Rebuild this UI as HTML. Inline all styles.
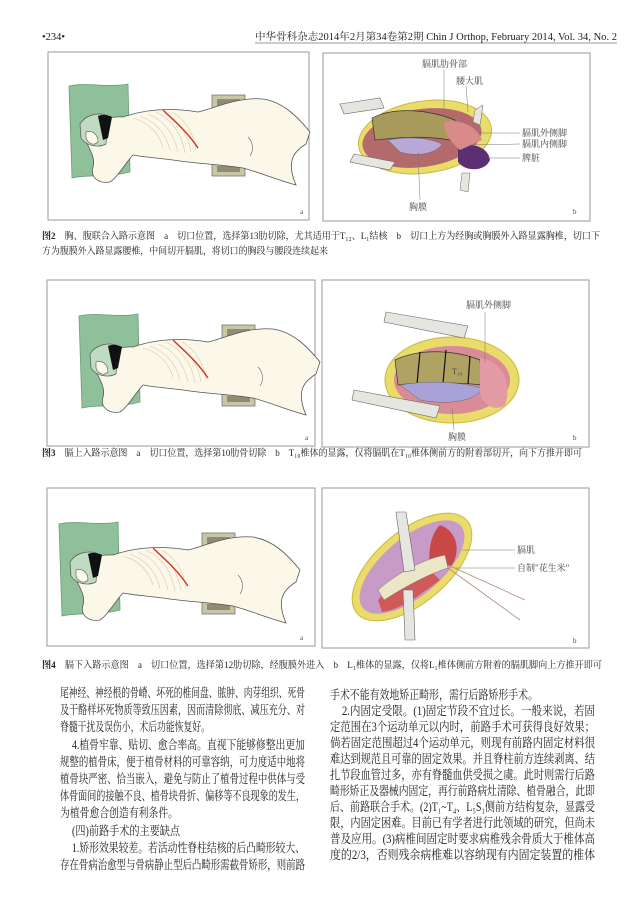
<!DOCTYPE html>
<html><head><meta charset="utf-8"><style>
html,body{margin:0;padding:0;background:#fff;}
svg{display:block;}
text{font-family:"Liberation Serif","Noto Serif CJK SC","Noto Sans CJK SC",serif;fill:#222;}
.cap{font-size:9.5px;}
.body{font-size:12.5px;}
.lab{font-size:9px;fill:#444;}
</style></head><body>
<svg width="625" height="900" viewBox="0 0 625 900" xmlns="http://www.w3.org/2000/svg">
<defs>
<g id="patient">
  <path d="M21,34 C40,30 60,36 80,32 L82,120 C60,126 40,122 24,126 Z" fill="#8fc09a" stroke="#6d9c78" stroke-width="0.8"/>
  <rect x="164" y="43" width="33" height="15" fill="#c9c6a6" stroke="#777" stroke-width="0.8"/>
  <rect x="169" y="47" width="23" height="7" fill="#8f8c74"/>
  <rect x="164" y="110" width="33" height="14" fill="#c9c6a6" stroke="#777" stroke-width="0.8"/>
  <rect x="169" y="114" width="23" height="6" fill="#8f8c74"/>
  <path d="M75,65 C95,58 120,55 150,60 C170,55 190,45 215,47 C235,50 250,65 262,80 L258,92 C245,100 238,110 248,133 C230,128 210,120 195,116 C170,112 150,112 125,108 C110,106 95,105 85,103 C78,110 70,125 62,130 C50,132 42,125 45,115 C48,105 40,95 36,85 C40,72 58,64 75,65 Z" fill="#fbf8ea" stroke="#555" stroke-width="0.8"/>
  <path d="M32,72 C38,62 52,60 60,64 L58,92 C50,96 38,94 33,86 Z" fill="#bfdcc2" stroke="#555" stroke-width="0.7"/>
  <path d="M50,64 C55,62 60,63 64,65 L60,86 L55,88 Z" fill="#111"/>
  <path d="M38,80 C44,78 50,82 50,90 C46,94 40,92 38,86 Z" fill="#fbf8ea" stroke="#555" stroke-width="0.6"/>
  <g stroke="#d9c7a0" stroke-width="0.6" fill="none">
    <path d="M85,66 C100,70 110,80 115,95"/><path d="M92,64 C108,70 118,82 122,98"/>
    <path d="M100,62 C116,68 126,82 130,100"/><path d="M108,60 C124,68 134,82 137,101"/>
    <path d="M116,60 C130,68 140,82 143,100"/><path d="M124,60 C138,68 146,82 148,98"/>
  </g>
  <path d="M115,58 C125,68 138,78 150,96" stroke="#d8322a" stroke-width="1.4" fill="none"/>
  <path d="M200,85 C205,90 206,98 202,104" stroke="#666" stroke-width="0.6" fill="none"/>
</g>
</defs>

<text x="42" y="40" style="font-size:10.5px">•234•</text>
<text x="255" y="40" style="font-size:10px" textLength="362" lengthAdjust="spacingAndGlyphs">中华骨科杂志2014年2月第34卷第2期 Chin J Orthop, February 2014, Vol. 34, No. 2</text>
<line x1="255" y1="43" x2="617" y2="43" stroke="#333" stroke-width="0.6"/>

<!-- Figure 2 -->
<rect x="48" y="52" width="261" height="168" fill="#fff" stroke="#999" stroke-width="1"/>
<use href="#patient" x="48" y="52"/>
<text x="300" y="214" class="lab" style="font-size:7px">a</text>
<rect x="323" y="53" width="267" height="168" fill="#fff" stroke="#999" stroke-width="1"/>
<ellipse cx="425" cy="137" rx="67" ry="36" fill="#e9dc6a" stroke="#c9b840" transform="rotate(-8 425 137)"/>
<ellipse cx="422" cy="138" rx="60" ry="29" fill="#b46a6a" transform="rotate(-8 422 138)"/>
<path d="M372,118 C395,106 430,110 455,120 L450,140 C420,135 395,138 375,140 Z" fill="#a89a5a" stroke="#333" stroke-width="0.7"/>
<path d="M388,140 C410,136 430,138 442,144 C438,152 420,158 400,152 Z" fill="#b9a8d8" stroke="#666" stroke-width="0.5"/>
<path d="M458,148 C470,142 488,146 490,160 C485,172 465,172 458,162 Z" fill="#5c2f74"/>
<path d="M444,122 C462,118 478,128 482,140 L460,150 C450,142 444,132 444,122 Z" fill="#d98a8a"/>
<path d="M340,104 L380,98 L384,108 L344,114 Z" fill="#e6e6e0" stroke="#666" stroke-width="0.6"/>
<path d="M354,154 L395,162 L390,170 L350,162 Z" fill="#e6e6e0" stroke="#666" stroke-width="0.6"/>
<path d="M475,110 L483,105 L480,125 L473,122 Z" fill="#e6e6e0" stroke="#666" stroke-width="0.5"/>
<path d="M462,173 L470,173 L468,192 L460,190 Z" fill="#e6e6e0" stroke="#666" stroke-width="0.5"/>
<g stroke="#777" stroke-width="0.5">
<line x1="444" y1="70" x2="444" y2="116"/><line x1="466" y1="86" x2="468" y2="112"/>
<line x1="478" y1="133" x2="520" y2="133"/><line x1="470" y1="145" x2="520" y2="144"/>
<line x1="488" y1="158" x2="520" y2="158"/><line x1="418" y1="152" x2="420" y2="200"/>
</g>
<text x="422" y="67" class="lab">膈肌肋骨部</text>
<text x="456" y="84" class="lab">腰大肌</text>
<text x="522" y="136" class="lab">膈肌外侧脚</text>
<text x="522" y="147" class="lab">膈肌内侧脚</text>
<text x="522" y="161" class="lab">脾脏</text>
<text x="409" y="210" class="lab">胸膜</text>
<text x="573" y="214" class="lab" style="font-size:7px">b</text>
<text x="42" y="239" class="cap" textLength="558" lengthAdjust="spacingAndGlyphs"><tspan font-weight="bold">图2</tspan>　胸、腹联合入路示意图　a　切口位置，选择第13肋切除，尤其适用于T₁₂、L₁结核　b　切口上方为经胸或胸膜外入路显露胸椎，切口下</text>
<text x="42" y="254" class="cap" textLength="286" lengthAdjust="spacingAndGlyphs">方为腹膜外入路显露腰椎，中间切开膈肌，将切口的胸段与腰段连续起来</text>

<!-- Figure 3 -->
<rect x="47" y="280" width="268" height="166" fill="#fff" stroke="#999" stroke-width="1"/>
<use href="#patient" x="58" y="282"/>
<text x="305" y="440" class="lab" style="font-size:7px">a</text>
<rect x="322" y="280" width="267" height="167" fill="#fff" stroke="#999" stroke-width="1"/>
<ellipse cx="452" cy="380" rx="67" ry="43" fill="#e9dc6a" stroke="#c9b840"/>
<ellipse cx="452" cy="380" rx="58" ry="34" fill="#d98c96"/>
<path d="M395,360 C420,348 455,350 480,360 L482,385 C455,382 420,382 398,385 Z" fill="#b0a262" stroke="#333" stroke-width="0.7"/>
<g stroke="#111" stroke-width="1.2"><line x1="420" y1="352" x2="417" y2="384"/><line x1="446" y1="350" x2="443" y2="383"/><line x1="470" y1="356" x2="468" y2="384"/></g>
<text x="452" y="374" class="lab" style="font-size:8px">T₁₀</text>
<path d="M400,385 C430,380 460,382 482,388 C478,400 450,406 420,400 Z" fill="#a9a2d8" stroke="#666" stroke-width="0.5"/>
<path d="M480,358 C505,362 512,385 505,405 C495,412 482,405 480,392 Z" fill="#e29aa4"/>
<path d="M386,312 L468,326 L464,338 L384,322 Z" fill="#e6e6e0" stroke="#666" stroke-width="0.6"/>
<path d="M354,390 L440,406 L436,418 L352,400 Z" fill="#e6e6e0" stroke="#666" stroke-width="0.6"/>
<g stroke="#777" stroke-width="0.5"><line x1="485" y1="312" x2="485" y2="362"/><line x1="452" y1="408" x2="454" y2="430"/></g>
<text x="466" y="308" class="lab">膈肌外侧脚</text>
<text x="448" y="440" class="lab">胸膜</text>
<text x="573" y="440" class="lab" style="font-size:7px">b</text>
<text x="42" y="456" class="cap" textLength="540" lengthAdjust="spacingAndGlyphs"><tspan font-weight="bold">图3</tspan>　膈上入路示意图　a　切口位置，选择第10肋骨切除　b　T₁₀椎体的显露，仅将膈肌在T₁₀椎体侧前方的附着部切开，向下方推开即可</text>

<!-- Figure 4 -->
<rect x="47" y="488" width="268" height="158" fill="#fff" stroke="#999" stroke-width="1"/>
<use href="#patient" x="38" y="490"/>
<text x="300" y="640" class="lab" style="font-size:7px">a</text>
<rect x="322" y="488" width="267" height="160" fill="#fff" stroke="#999" stroke-width="1"/>
<ellipse cx="412" cy="567" rx="72" ry="36" fill="#e9dc6a" stroke="#c9b840" transform="rotate(-40 412 567)"/>
<ellipse cx="412" cy="567" rx="64" ry="29" fill="#c89ac8" transform="rotate(-40 412 567)"/>
<path d="M440,525 C455,530 462,548 452,565 L430,570 C428,552 430,535 440,525 Z" fill="#c84848"/>
<path d="M378,600 C395,580 415,565 430,570 L440,580 C420,595 400,610 382,612 Z" fill="#d05a5a"/>
<path d="M378,590 C395,575 420,560 445,555 L448,568 C425,575 400,590 384,600 Z" fill="#ece6c8" stroke="#777" stroke-width="0.5"/>
<path d="M396,512 L406,512 L415,570 L404,572 Z" fill="#e6e6e0" stroke="#666" stroke-width="0.6"/>
<path d="M403,590 L413,590 L415,640 L405,640 Z" fill="#e6e6e0" stroke="#666" stroke-width="0.6"/>
<g stroke="#b08a80" stroke-width="0.8"><line x1="448" y1="565" x2="525" y2="600"/><line x1="448" y1="568" x2="520" y2="620"/></g>
<g stroke="#777" stroke-width="0.5"><line x1="462" y1="550" x2="515" y2="550"/><line x1="455" y1="568" x2="515" y2="568"/></g>
<text x="517" y="553" class="lab">膈肌</text>
<text x="517" y="571" class="lab">自制"花生米"</text>
<text x="573" y="643" class="lab" style="font-size:7px">b</text>
<text x="42" y="668" class="cap" textLength="560" lengthAdjust="spacingAndGlyphs"><tspan font-weight="bold">图4</tspan>　膈下入路示意图　a　切口位置，选择第12肋切除，经腹膜外进入　b　L₁椎体的显露，仅将L₁椎体侧前方附着的膈肌脚向上方推开即可</text>

<text x="60" y="697" class="body" textLength="245" lengthAdjust="spacingAndGlyphs">尾神经、神经根的骨嵴、坏死的椎间盘、脓肿、肉芽组织、死骨</text>
<text x="60" y="714" class="body" textLength="245" lengthAdjust="spacingAndGlyphs">及干酪样坏死物质等致压因素，因而清除彻底、减压充分、对</text>
<text x="60" y="731" class="body" textLength="150" lengthAdjust="spacingAndGlyphs">脊髓干扰及误伤小，术后功能恢复好。</text>
<text x="72" y="749" class="body" textLength="233" lengthAdjust="spacingAndGlyphs">4.植骨牢靠、贴切、愈合率高。直视下能够修整出更加</text>
<text x="60" y="766" class="body" textLength="245" lengthAdjust="spacingAndGlyphs">规整的植骨床，便于植骨材料的可靠容纳，可力度适中地将</text>
<text x="60" y="783" class="body" textLength="245" lengthAdjust="spacingAndGlyphs">植骨块严密、恰当嵌入，避免与防止了植骨过程中供体与受</text>
<text x="60" y="800" class="body" textLength="245" lengthAdjust="spacingAndGlyphs">体骨面间的接触不良、植骨块骨折、偏移等不良现象的发生，</text>
<text x="60" y="817" class="body" textLength="118" lengthAdjust="spacingAndGlyphs">为植骨愈合创造有利条件。</text>
<text x="72" y="835" class="body" textLength="108" lengthAdjust="spacingAndGlyphs">(四)前路手术的主要缺点</text>
<text x="72" y="852" class="body" textLength="233" lengthAdjust="spacingAndGlyphs">1.矫形效果较差。若活动性脊柱结核的后凸畸形较大、</text>
<text x="60" y="869" class="body" textLength="245" lengthAdjust="spacingAndGlyphs">存在骨病治愈型与骨病静止型后凸畸形需截骨矫形，则前路</text>

<text x="330" y="699" class="body" textLength="208" lengthAdjust="spacingAndGlyphs">手术不能有效地矫正畸形，需行后路矫形手术。</text>
<text x="342" y="715" class="body" textLength="253" lengthAdjust="spacingAndGlyphs">2.内固定受限。(1)固定节段不宜过长。一般来说，若固</text>
<text x="330" y="731" class="body" textLength="265" lengthAdjust="spacingAndGlyphs">定范围在3个运动单元以内时，前路手术可获得良好效果；</text>
<text x="330" y="747" class="body" textLength="265" lengthAdjust="spacingAndGlyphs">倘若固定范围超过4个运动单元，则现有前路内固定材料很</text>
<text x="330" y="763" class="body" textLength="265" lengthAdjust="spacingAndGlyphs">难达到规范且可靠的固定效果。并且脊柱前方连续剥离、结</text>
<text x="330" y="779" class="body" textLength="265" lengthAdjust="spacingAndGlyphs">扎节段血管过多，亦有脊髓血供受损之虞。此时则需行后路</text>
<text x="330" y="795" class="body" textLength="265" lengthAdjust="spacingAndGlyphs">畸形矫正及器械内固定，再行前路病灶清除、植骨融合，此即</text>
<text x="330" y="811" class="body" textLength="265" lengthAdjust="spacingAndGlyphs">后、前路联合手术。(2)T₁~T₄、L₅S₁侧前方结构复杂，显露受</text>
<text x="330" y="827" class="body" textLength="265" lengthAdjust="spacingAndGlyphs">限，内固定困难。目前已有学者进行此领域的研究，但尚未</text>
<text x="330" y="843" class="body" textLength="265" lengthAdjust="spacingAndGlyphs">普及应用。(3)病椎间固定时要求病椎残余骨质大于椎体高</text>
<text x="330" y="859" class="body" textLength="265" lengthAdjust="spacingAndGlyphs">度的2/3，否则残余病椎难以容纳现有内固定装置的椎体</text>
</svg>
</body></html>
